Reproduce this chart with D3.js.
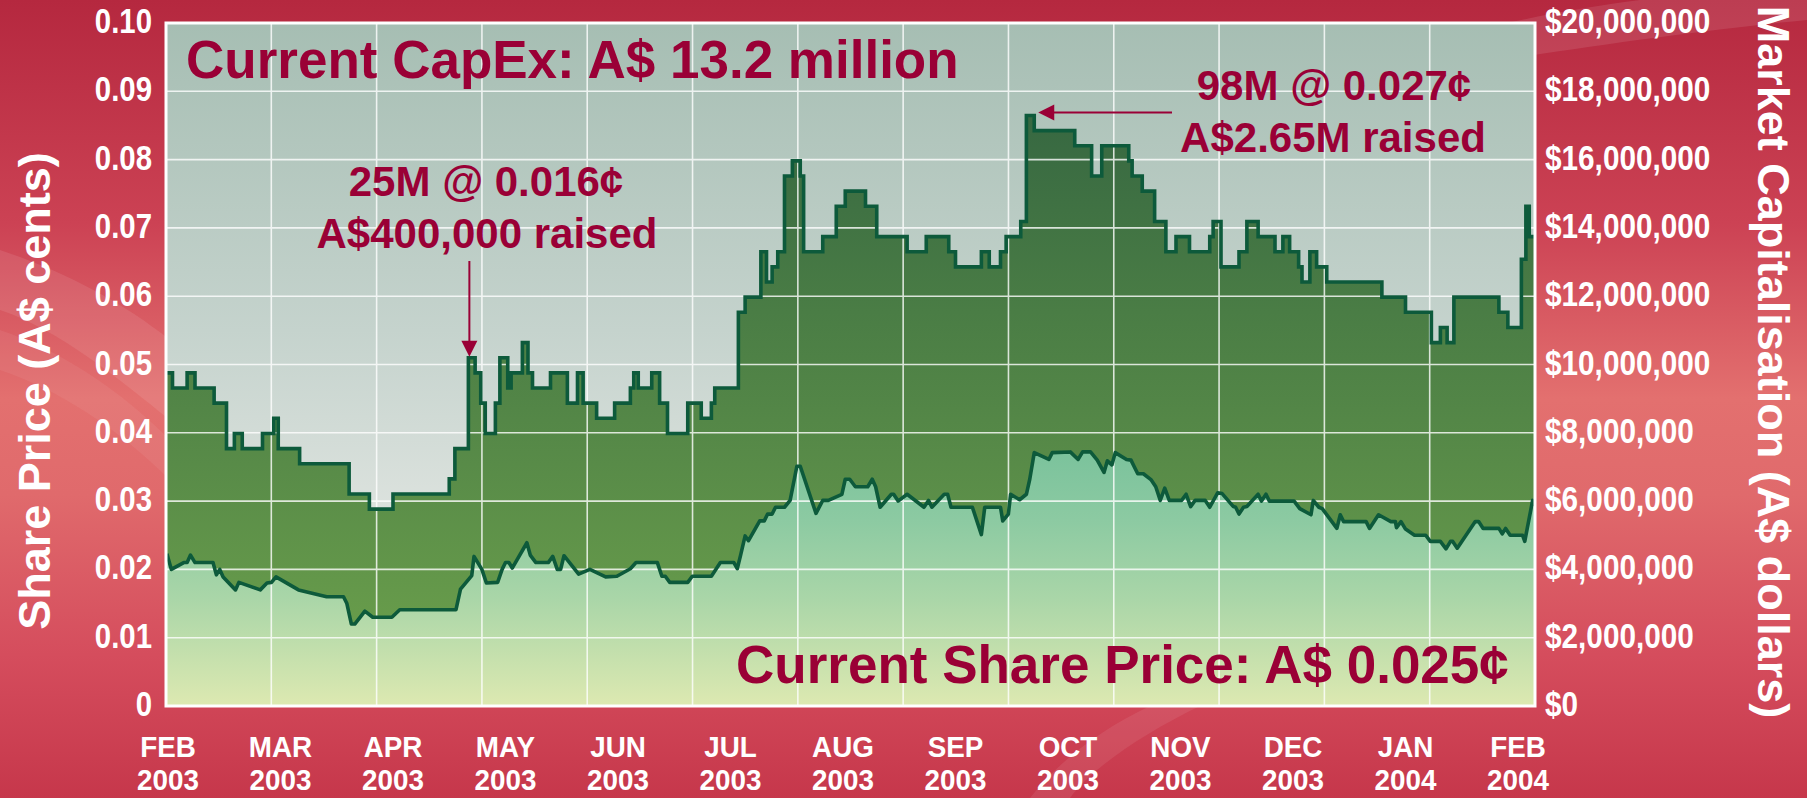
<!DOCTYPE html>
<html>
<head>
<meta charset="utf-8">
<script src="https://cdn.jsdelivr.net/npm/d3@7"></script>
<style>
  html, body { margin: 0; padding: 0; background: #c93a4e; overflow: hidden; }
  svg { display: block; }
  text { font-family: "Liberation Sans", Arial, sans-serif; font-weight: bold; }
</style>
</head>
<body>
<svg id="chart" width="1807" height="798"></svg>
<script>
// x values are months since the start of Feb 2003
const monthNames = ['FEB','MAR','APR','MAY','JUN','JUL','AUG','SEP','OCT','NOV','DEC','JAN','FEB'];
const monthYears = ['2003','2003','2003','2003','2003','2003','2003','2003','2003','2003','2003','2004','2004'];

const priceTicks = [0, 0.01, 0.02, 0.03, 0.04, 0.05, 0.06, 0.07, 0.08, 0.09, 0.10];
const capTicks = [0, 2e6, 4e6, 6e6, 8e6, 10e6, 12e6, 14e6, 16e6, 18e6, 20e6];

// market capitalisation (A$), step series
const capMonths = [-0.02, 0.04, 0.17, 0.24, 0.41, 0.52, 0.59, 0.66, 0.84, 0.94, 0.98, 1.17, 1.61, 1.79, 2.00,
  2.50, 2.55, 2.67, 2.73, 2.78, 2.82, 2.91, 2.95, 3.02, 3.05, 3.15, 3.20, 3.24, 3.40, 3.55, 3.64, 3.69, 3.81,
  3.97, 4.11, 4.14, 4.18, 4.30, 4.37, 4.44, 4.62, 4.74, 4.83, 4.86, 5.07, 5.13, 5.27, 5.32, 5.37, 5.42, 5.48,
  5.55, 5.62, 5.65, 5.82, 5.94, 6.02, 6.20, 6.30, 6.57, 6.74, 6.94, 7.00, 7.23, 7.30, 7.40, 7.45, 7.58, 7.63,
  7.70, 8.06, 8.21, 8.30, 8.54, 8.57, 8.66, 8.77, 8.87, 8.96, 9.08, 9.26, 9.29, 9.36, 9.52, 9.59, 9.69, 9.84,
  9.91, 9.97, 10.05, 10.08, 10.15, 10.21, 10.30, 10.79, 11.00, 11.23, 11.31, 11.37, 11.43, 11.83, 11.91, 12.03,
  12.07, 12.10, 12.16];
const capValues = [9755000, 9311000, 9755000, 9311000, 8868000, 7538000, 7981000, 7538000, 7981000, 8425000, 7538000,
  7094000, 6208000, 5764000, 6208000, 6651000, 7538000, 10198000, 9755000, 8868000, 7981000, 8868000, 10198000,
  9311000, 9755000, 10642000, 9755000, 9311000, 9755000, 8868000, 9755000, 8868000, 8425000, 8868000, 9311000,
  9755000, 9311000, 9755000, 8868000, 7981000, 8868000, 8425000, 8868000, 9311000, 11528000, 11972000, 13302000,
  12415000, 12859000, 13302000, 15519000, 15962000, 15519000, 13302000, 13745000, 14632000, 15076000, 14632000,
  13745000, 13302000, 13745000, 13302000, 12859000, 13302000, 12859000, 13302000, 13745000, 14189000, 17293000,
  16849000, 16406000, 15519000, 16406000, 15962000, 15519000, 15076000, 14189000, 13302000, 13745000, 13302000,
  13745000, 14189000, 12859000, 13302000, 14189000, 13745000, 13302000, 13745000, 13302000, 12859000, 12415000,
  13302000, 12859000, 12415000, 11972000, 11528000, 10642000, 11085000, 10642000, 11972000, 11528000, 11085000,
  13080000, 14632000, 13745000, 13745000];

// share price (A$ cents), daily line
const priceMonths = [-0.01, 0.03, 0.14, 0.17, 0.20, 0.24, 0.40, 0.43, 0.46, 0.49, 0.60, 0.63, 0.82, 0.88, 0.92, 0.96,
  1.16, 1.41, 1.56, 1.59, 1.63, 1.66, 1.75, 1.82, 1.99, 2.06, 2.56, 2.60, 2.70, 2.72, 2.79, 2.83, 2.93, 2.97, 3.00,
  3.03, 3.06, 3.19, 3.22, 3.27, 3.38, 3.42, 3.46, 3.49, 3.52, 3.65, 3.75, 3.89, 3.99, 4.11, 4.16, 4.35, 4.39, 4.42,
  4.46, 4.62, 4.66, 4.83, 4.91, 5.03, 5.06, 5.09, 5.13, 5.16, 5.26, 5.30, 5.33, 5.37, 5.40, 5.48, 5.53, 5.59, 5.62,
  5.76, 5.82, 5.87, 5.99, 6.02, 6.06, 6.11, 6.22, 6.26, 6.29, 6.33, 6.43, 6.45, 6.49, 6.57, 6.72, 6.76, 6.79, 6.90,
  6.93, 6.96, 7.15, 7.23, 7.26, 7.40, 7.42, 7.47, 7.49, 7.57, 7.63, 7.66, 7.70, 7.83, 7.86, 8.02, 8.09, 8.13, 8.20,
  8.26, 8.32, 8.35, 8.39, 8.42, 8.52, 8.56, 8.59, 8.62, 8.67, 8.74, 8.78, 8.82, 8.86, 8.90, 9.01, 9.05, 9.09, 9.13,
  9.22, 9.26, 9.33, 9.37, 9.47, 9.49, 9.52, 9.56, 9.59, 9.69, 9.72, 9.76, 9.79, 10.01, 10.06, 10.16, 10.18, 10.23,
  10.26, 10.39, 10.42, 10.45, 10.65, 10.68, 10.76, 10.87, 10.91, 10.92, 10.96, 11.00, 11.08, 11.18, 11.22, 11.31,
  11.36, 11.40, 11.42, 11.46, 11.62, 11.65, 11.69, 11.83, 11.86, 11.89, 11.93, 12.04, 12.06, 12.13, 12.17];
const priceValues = [0.0223, 0.0200, 0.0210, 0.0210, 0.0221, 0.0210, 0.0210, 0.0192, 0.0200, 0.0189, 0.0170, 0.0181,
  0.0170, 0.0180, 0.0181, 0.0189, 0.0170, 0.0160, 0.0160, 0.0150, 0.0120, 0.0120, 0.0139, 0.0130, 0.0130, 0.0141,
  0.0141, 0.0171, 0.0191, 0.0219, 0.0200, 0.0180, 0.0181, 0.0200, 0.0210, 0.0210, 0.0202, 0.0239, 0.0221, 0.0210,
  0.0210, 0.0219, 0.0200, 0.0200, 0.0220, 0.0193, 0.0200, 0.0189, 0.0190, 0.0201, 0.0210, 0.0210, 0.0190, 0.0190,
  0.0181, 0.0181, 0.0190, 0.0190, 0.0210, 0.0210, 0.0201, 0.0221, 0.0249, 0.0242, 0.0271, 0.0271, 0.0281, 0.0281,
  0.0291, 0.0291, 0.0301, 0.0351, 0.0351, 0.0282, 0.0301, 0.0301, 0.0310, 0.0332, 0.0332, 0.0321, 0.0321, 0.0332,
  0.0321, 0.0291, 0.0310, 0.0310, 0.0300, 0.0310, 0.0291, 0.0301, 0.0291, 0.0310, 0.0310, 0.0291, 0.0291, 0.0251,
  0.0291, 0.0291, 0.0271, 0.0281, 0.0310, 0.0302, 0.0310, 0.0332, 0.0371, 0.0361, 0.0371, 0.0372, 0.0361, 0.0372,
  0.0372, 0.0360, 0.0342, 0.0359, 0.0353, 0.0371, 0.0361, 0.0360, 0.0350, 0.0340, 0.0340, 0.0331, 0.0321, 0.0301,
  0.0319, 0.0301, 0.0301, 0.0310, 0.0292, 0.0301, 0.0301, 0.0291, 0.0312, 0.0311, 0.0292, 0.0291, 0.0281, 0.0291,
  0.0292, 0.0310, 0.0300, 0.0310, 0.0300, 0.0300, 0.0289, 0.0280, 0.0301, 0.0291, 0.0289, 0.0260, 0.0280, 0.0270,
  0.0270, 0.0260, 0.0280, 0.0270, 0.0270, 0.0261, 0.0270, 0.0259, 0.0250, 0.0250, 0.0241, 0.0241, 0.0230, 0.0241,
  0.0241, 0.0231, 0.0270, 0.0270, 0.0260, 0.0260, 0.0252, 0.0260, 0.0250, 0.0250, 0.0241, 0.0301, 0.0289];

const crimson = '#9a0036';
const plot = { left: 166, right: 1535, top: 23, bottom: 706 };

const svg = d3.select('#chart');
const defs = svg.append('defs');

function gradient(id, y1, y2, stops) {
    const g = defs.append('linearGradient').attr('id', id)
        .attr('gradientUnits', 'userSpaceOnUse')
        .attr('x1', 0).attr('x2', 0).attr('y1', y1).attr('y2', y2);
    stops.forEach(s => g.append('stop').attr('offset', s[0]).attr('stop-color', s[1]));
}
gradient('bg', 0, 798, [[0, '#b5283f'], [0.28, '#cc4254'], [0.5, '#e3706f'], [0.62, '#e06a6c'], [0.82, '#d54d5d'], [1, '#c6374b']]);
gradient('plotbg', plot.top, plot.bottom, [[0, '#a6beb3'], [0.45, '#c5d3cd'], [0.75, '#dfe4e0'], [1, '#e8ebe5']]);
gradient('capfill', 100, plot.bottom, [[0, '#356641'], [0.35, '#4a7d45'], [0.6, '#588b48'], [1, '#6fa44c']]);
gradient('pricefill', 440, plot.bottom, [[0, '#78c19b'], [0.3, '#8ccaa2'], [0.6, '#aad6a8'], [1, '#dde9b1']]);

defs.append('clipPath').attr('id', 'plotclip')
    .append('rect')
    .attr('x', plot.left).attr('y', plot.top)
    .attr('width', plot.right - plot.left).attr('height', plot.bottom - plot.top);

// background
svg.append('rect').attr('width', 1807).attr('height', 798).attr('fill', 'url(#bg)');
const swoosh = svg.append('g').attr('fill', '#fff');
swoosh.append('path').attr('opacity', 0.09)
    .attr('d', 'M0,250 C60,270 120,300 170,340 L170,420 C120,380 60,330 0,310 Z');
swoosh.append('path').attr('opacity', 0.06)
    .attr('d', 'M0,330 C60,350 120,390 170,440 L170,480 C120,430 60,390 0,370 Z');
swoosh.append('path').attr('opacity', 0.1)
    .attr('d', 'M1380,60 C1460,30 1560,10 1640,0 L1807,0 L1807,20 C1700,30 1560,50 1440,70 Z');
swoosh.append('path').attr('opacity', 0.08)
    .attr('d', 'M1030,798 C1060,760 1100,730 1150,706 L1200,706 C1140,735 1090,770 1070,798 Z');

// scales
const x = d3.scaleLinear().domain([0, 12]).range([168, 1518]);
const yPrice = d3.scaleLinear().domain([0, 0.10]).range([plot.bottom, plot.top]);
const yCap = d3.scaleLinear().domain([0, 20e6]).range([plot.bottom, plot.top]);

const capData = capMonths.map((m, i) => ({ m, v: capValues[i] }));
const priceData = priceMonths.map((m, i) => ({ m, v: priceValues[i] }));

// plot area
svg.append('rect')
    .attr('x', plot.left).attr('y', plot.top)
    .attr('width', plot.right - plot.left).attr('height', plot.bottom - plot.top)
    .attr('fill', 'url(#plotbg)');

const inner = svg.append('g').attr('clip-path', 'url(#plotclip)');

const capArea = d3.area().curve(d3.curveStepAfter)
    .x(d => x(d.m)).y0(plot.bottom).y1(d => yCap(d.v));
const capLine = d3.line().curve(d3.curveStepAfter)
    .x(d => x(d.m)).y(d => yCap(d.v));
const priceArea = d3.area()
    .x(d => x(d.m)).y0(plot.bottom).y1(d => yPrice(d.v));
const priceLine = d3.line()
    .x(d => x(d.m)).y(d => yPrice(d.v));

inner.append('path').datum(capData).attr('d', capArea).attr('fill', 'url(#capfill)');
inner.append('path').datum(priceData).attr('d', priceArea).attr('fill', 'url(#pricefill)');

// gridlines (13 equal columns, one row per tick)
const grid = inner.append('g').attr('stroke', '#fff').attr('stroke-width', 1.6).attr('opacity', 0.8);
grid.selectAll('line.h').data(priceTicks).enter().append('line')
    .attr('x1', plot.left).attr('x2', plot.right)
    .attr('y1', d => yPrice(d)).attr('y2', d => yPrice(d));
const colW = (plot.right - plot.left) / 13;
grid.selectAll('line.v').data(d3.range(1, 13)).enter().append('line')
    .attr('y1', plot.top).attr('y2', plot.bottom)
    .attr('x1', d => plot.left + d * colW).attr('x2', d => plot.left + d * colW);

inner.append('path').datum(capData).attr('d', capLine)
    .attr('fill', 'none').attr('stroke', '#0d5a3b').attr('stroke-width', 3.6).attr('stroke-linejoin', 'miter');
inner.append('path').datum(priceData).attr('d', priceLine)
    .attr('fill', 'none').attr('stroke', '#0d5a3b').attr('stroke-width', 3.6).attr('stroke-linejoin', 'round');

svg.append('rect')
    .attr('x', plot.left).attr('y', plot.top)
    .attr('width', plot.right - plot.left).attr('height', plot.bottom - plot.top)
    .attr('fill', 'none').attr('stroke', '#fff').attr('stroke-width', 3);

// condensed white labels (Arial Narrow look)
function narrow(g, px, py, str, anchor, sx) {
    return g.append('text')
        .attr('transform', `translate(${px},${py}) scale(${sx || 0.82},1)`)
        .attr('text-anchor', anchor)
        .text(str);
}
const labels = svg.append('g').attr('fill', '#fff').attr('font-size', 35);
priceTicks.forEach(t => narrow(labels, 152, yPrice(t) + 10, t === 0 ? '0' : d3.format('.2f')(t), 'end', 0.84));
capTicks.forEach(t => narrow(labels, 1545, yCap(t) + 10, '$' + d3.format(',')(t), 'start', 0.85));

// month and year labels, two rows
const monthLabels = svg.append('g').attr('fill', '#fff').attr('font-size', 29);
monthNames.forEach((mn, i) => {
    narrow(monthLabels, x(i), 757, mn, 'middle', 0.96);
    narrow(monthLabels, x(i), 790, monthYears[i], 'middle', 0.96);
});

// axis titles
svg.append('text')
    .attr('transform', 'translate(50,391) rotate(-90)')
    .attr('text-anchor', 'middle').attr('font-size', 45).attr('fill', '#fff')
    .text('Share Price (A$ cents)');
svg.append('text')
    .attr('transform', 'translate(1758,362) rotate(90)')
    .attr('text-anchor', 'middle').attr('font-size', 45).attr('fill', '#fff')
    .text('Market Capitalisation (A$ dollars)');

// headline texts
const notes = svg.append('g').attr('fill', crimson);
notes.append('text').attr('x', 186).attr('y', 78).attr('font-size', 53)
    .text('Current CapEx: A$ 13.2 million');
notes.append('text').attr('x', 736).attr('y', 683).attr('font-size', 53)
    .text('Current Share Price: A$ 0.025¢');

notes.append('text').attr('x', 486).attr('y', 196).attr('font-size', 42).attr('text-anchor', 'middle')
    .text('25M @ 0.016¢');
notes.append('text').attr('x', 487).attr('y', 248).attr('font-size', 42).attr('text-anchor', 'middle')
    .text('A$400,000 raised');
notes.append('text').attr('x', 1334).attr('y', 100).attr('font-size', 42).attr('text-anchor', 'middle')
    .text('98M @ 0.027¢');
notes.append('text').attr('x', 1333).attr('y', 152).attr('font-size', 42).attr('text-anchor', 'middle')
    .text('A$2.65M raised');

// arrows pointing at the two placements
const a1x = x(2.67) + 1, a1y = yCap(capValues[capMonths.indexOf(2.67)]) - 1;
notes.append('line').attr('x1', a1x).attr('x2', a1x).attr('y1', 261).attr('y2', a1y - 14)
    .attr('stroke', crimson).attr('stroke-width', 2);
notes.append('path').attr('d', `M${a1x - 8},${a1y - 16}L${a1x + 8},${a1y - 16}L${a1x},${a1y}Z`);

const a2x = x(7.70) + 4, a2y = yCap(capValues[capMonths.indexOf(7.63)]) - 3;
notes.append('line').attr('x1', 1172).attr('x2', a2x + 14).attr('y1', a2y).attr('y2', a2y)
    .attr('stroke', crimson).attr('stroke-width', 2);
notes.append('path').attr('d', `M${a2x + 16},${a2y - 8}L${a2x + 16},${a2y + 8}L${a2x},${a2y}Z`);
</script>
</body>
</html>
